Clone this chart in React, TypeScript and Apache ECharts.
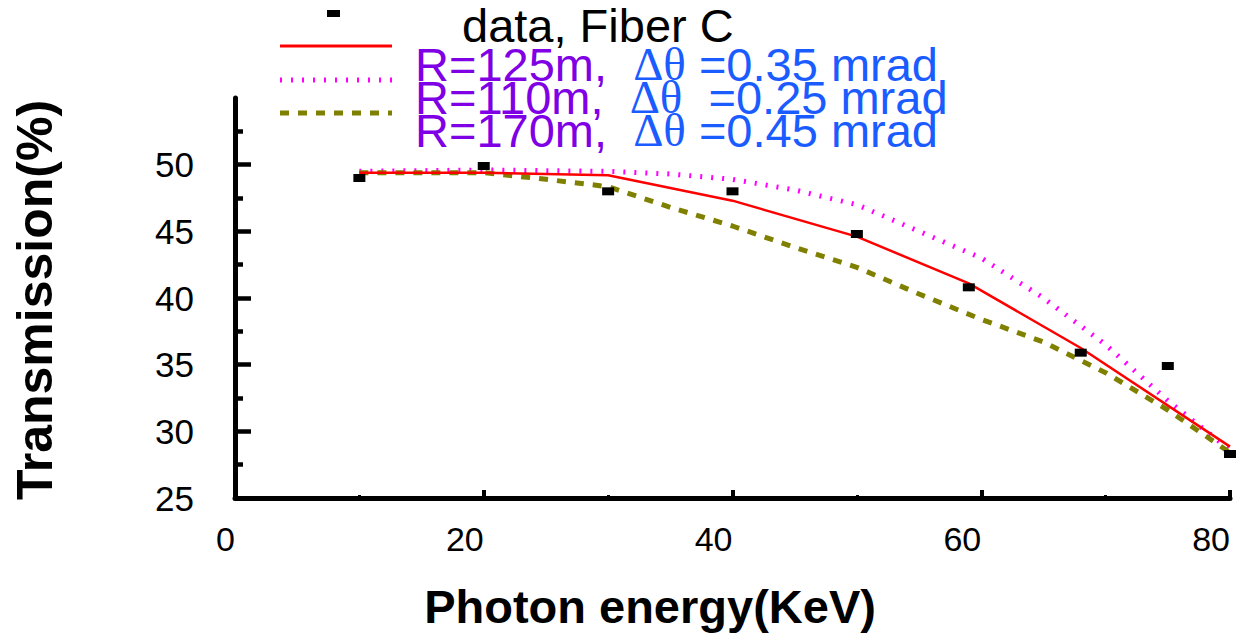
import React, { useEffect, useRef } from "react";
import * as echarts from "echarts";

// Measured transmission of Fiber C versus photon energy
const dataPoints: [number, number][] = [
  [10, 49.0], [20, 49.9], [30, 48.0], [40, 48.0], [50, 44.8],
  [59, 40.8], [68, 35.9], [75, 34.9], [80, 28.3],
];

// Model curves
const curveR125: [number, number][] = [
  [10, 49.4], [20, 49.4], [30, 49.2], [40, 47.3], [50, 44.6],
  [59, 41.1], [68, 36.25], [80, 28.85],
];
const curveR110: [number, number][] = [
  [10, 49.5], [20, 49.6], [30, 49.5], [35, 49.3], [40, 48.9],
  [45, 48.1], [50, 47.0], [55, 45.0], [60, 43.0], [65, 40.0],
  [70, 36.5], [75, 32.3], [80, 28.6],
];
const curveR170: [number, number][] = [
  [10, 49.4], [20, 49.4], [25, 48.9], [30, 48.35], [35, 46.8],
  [40, 45.4], [45, 43.8], [50, 42.3], [55, 40.3], [60, 38.4],
  [65, 36.7], [70, 34.4], [75, 31.6], [80, 28.4],
];

const yMajorTicks = [25, 30, 35, 40, 45, 50];
const yMinorTicks = [27.5, 32.5, 37.5, 42.5, 47.5, 52.5];

const legendRows = [
  { r: "R=125m,", d: "Δθ", v: " =0.35 mrad" },
  { r: "R=110m,", d: "Δθ", v: "  =0.25 mrad" },
  { r: "R=170m,", d: "Δθ", v: " =0.45 mrad" },
];

const SANS = "Liberation Sans, Arial, sans-serif";
const SERIF = "Liberation Serif, Times New Roman, serif";

export default function App() {
  const ref = useRef<HTMLDivElement>(null);

  useEffect(() => {
    document.body.style.margin = "0";
    if (!ref.current) return;
    const chart = echarts.init(ref.current, undefined, { renderer: "svg" });

    const rowY = [64, 97, 130];
    const legendText = legendRows.map((row, i) => ({
      type: "text",
      x: 415,
      y: rowY[i],
      style: {
        text: `{r|${row.r}}{s|  }{d|${row.d}}{b|${row.v}}`,
        verticalAlign: "middle",
        rich: {
          r: { fontSize: 47, fontFamily: SANS, fill: "#8000e6" },
          s: { fontSize: 47, fontFamily: SANS, fill: "#1a5cff" },
          d: { fontSize: 47, fontFamily: SERIF, fill: "#1a5cff" },
          b: { fontSize: 47, fontFamily: SANS, fill: "#1a5cff" },
        },
      },
    }));

    chart.setOption({
      animation: false,
      backgroundColor: "#ffffff",
      grid: { left: 235, right: 10, top: 98, bottom: 135, containLabel: false },
      xAxis: {
        type: "value",
        min: 0,
        max: 80,
        interval: 20,
        axisLine: { show: true, lineStyle: { color: "#000", width: 5 } },
        axisTick: { show: true, inside: true, length: 8, lineStyle: { color: "#000", width: 4 } },
        minorTick: { show: true, splitNumber: 2, length: 3, lineStyle: { color: "#000", width: 3 } },
        axisLabel: { fontSize: 34, color: "#000", fontFamily: SANS, align: "right", margin: 24 },
        splitLine: { show: false },
        minorSplitLine: { show: false },
      },
      yAxis: [
        {
          type: "value",
          position: "left",
          min: 25,
          max: 55,
          interval: 5,
          offset: 8,
          axisLine: { show: true, lineStyle: { color: "#000", width: 5 } },
          axisTick: { show: false },
          axisLabel: { fontSize: 35, color: "#000", fontFamily: SANS, margin: 33, showMaxLabel: false },
          splitLine: { show: false },
        },
        {
          type: "value",
          position: "left",
          min: 25,
          max: 55,
          interval: 5,
          offset: 0,
          axisLine: { show: false },
          axisTick: { show: true, inside: true, length: 16, customValues: yMajorTicks, lineStyle: { color: "#000", width: 4.5 } },
          axisLabel: { show: false },
          splitLine: { show: false },
        },
        {
          type: "value",
          position: "left",
          min: 25,
          max: 55,
          interval: 5,
          offset: 0,
          axisLine: { show: false },
          axisTick: { show: true, inside: true, length: 8, customValues: yMinorTicks, lineStyle: { color: "#000", width: 4.5 } },
          axisLabel: { show: false },
          splitLine: { show: false },
        },
      ],
      series: [
        {
          name: "R=125m",
          type: "line",
          data: curveR125,
          showSymbol: false,
          lineStyle: { color: "#ff0000", width: 2.5 },
          z: 3,
        },
        {
          name: "R=110m",
          type: "line",
          data: curveR110,
          showSymbol: false,
          lineStyle: { color: "#ff00ff", width: 5, type: [2, 9] },
          z: 2,
        },
        {
          name: "R=170m",
          type: "line",
          data: curveR170,
          showSymbol: false,
          lineStyle: { color: "#808000", width: 5, type: [9, 9] },
          z: 2,
        },
        {
          name: "data, Fiber C",
          type: "scatter",
          data: dataPoints,
          symbol: "rect",
          symbolSize: [12, 8],
          itemStyle: { color: "#000", opacity: 1 },
          z: 5,
        },
      ],
      graphic: [
        // legend keys
        { type: "rect", shape: { x: 327, y: 10, width: 13, height: 7 }, style: { fill: "#000" } },
        { type: "line", shape: { x1: 280, y1: 46, x2: 392, y2: 46 }, style: { stroke: "#ff0000", lineWidth: 3 } },
        { type: "line", shape: { x1: 280, y1: 80, x2: 392, y2: 80 }, style: { stroke: "#ff00ff", lineWidth: 5, lineDash: [2, 9] } },
        { type: "line", shape: { x1: 280, y1: 113, x2: 392, y2: 113 }, style: { stroke: "#808000", lineWidth: 5, lineDash: [9, 9] } },
        {
          type: "text",
          x: 462,
          y: 25,
          style: {
            text: "data, Fiber C",
            fontSize: 47,
            lineHeight: 42,
            fontFamily: SANS,
            fill: "#000",
            verticalAlign: "middle",
          },
        },
        ...legendText,
        // axis titles
        {
          type: "text",
          x: 650,
          y: 606,
          style: {
            text: "Photon energy(KeV)",
            fontSize: 47,
            fontWeight: "bold",
            fontFamily: SANS,
            fill: "#000",
            align: "center",
            verticalAlign: "middle",
          },
        },
        {
          type: "text",
          x: 35,
          y: 300,
          rotation: Math.PI / 2,
          style: {
            text: "Transmission(%)",
            fontSize: 50,
            fontWeight: "bold",
            fontFamily: SANS,
            fill: "#000",
            align: "center",
            verticalAlign: "middle",
          },
        },
      ],
    });

    return () => chart.dispose();
  }, []);

  return <div ref={ref} style={{ width: 1240, height: 633 }} />;
}
